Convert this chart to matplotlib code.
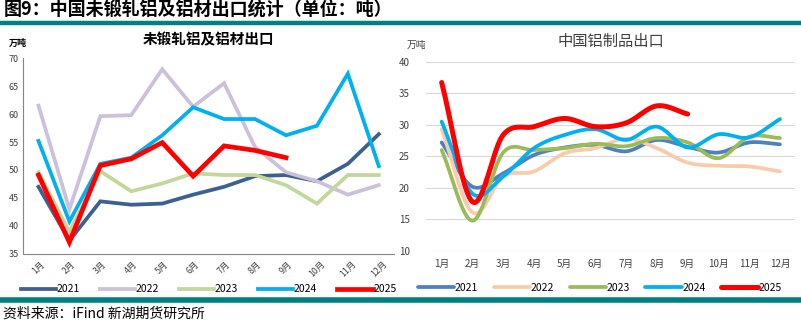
import numpy as np
import matplotlib
matplotlib.use("Agg")
import matplotlib.pyplot as plt
from matplotlib.lines import Line2D

plt.rcParams['font.family'] = ['Noto Sans CJK SC', 'DejaVu Sans']

months = ['1月', '2月', '3月', '4月', '5月', '6月', '7月', '8月', '9月', '10月', '11月', '12月']
years = ['2021', '2022', '2023', '2024', '2025']

# 未锻轧铝及铝材出口 (万吨)
raw_2021 = [47.0, 37.4, 44.4, 43.8, 44.0, 45.6, 47.0, 48.9, 49.1, 48.0, 51.1, 56.4]
raw_2022 = [61.5, 43.0, 59.6, 59.8, 68.0, 61.3, 65.5, 54.1, 49.6, 48.0, 45.6, 47.3]
raw_2023 = [49.6, 38.9, 49.8, 46.2, 47.6, 49.4, 49.1, 49.1, 47.3, 44.0, 49.1, 49.1]
raw_2024 = [55.2, 40.8, 51.1, 52.2, 56.2, 61.2, 59.1, 59.1, 56.2, 57.9, 67.2, 50.7]
raw_2025 = [49.1, 37.1, 50.8, 52.0, 54.9, 48.9, 54.3, 53.5, 52.2]

# 中国铝制品出口 (万吨)
prod_2021 = [27.2, 20.2, 22.3, 25.2, 26.4, 26.8, 25.8, 27.6, 26.5, 25.6, 27.2, 26.9]
prod_2022 = [29.3, 16.1, 21.8, 22.6, 25.5, 26.3, 27.8, 26.3, 24.0, 23.5, 23.4, 22.6]
prod_2023 = [26.0, 14.8, 25.6, 26.0, 26.3, 27.0, 26.6, 27.9, 27.2, 24.7, 28.1, 27.9]
prod_2024 = [30.5, 19.1, 21.8, 26.3, 28.4, 29.3, 27.6, 29.7, 26.4, 28.5, 28.0, 30.9]
prod_2025 = [36.7, 17.8, 28.4, 29.7, 31.0, 29.7, 30.3, 33.0, 31.7]

raw_series = [raw_2021, raw_2022, raw_2023, raw_2024, raw_2025]
prod_series = [prod_2021, prod_2022, prod_2023, prod_2024, prod_2025]

left_colors = ['#3C6090', '#CCC1DA', '#C3D69B', '#00B0F0', '#FF0000']
right_colors = ['#4F81BD', '#F8CBAD', '#9BBB59', '#00B0F0', '#FF0000']
teal = '#008080'


def smooth(x, y, n=20):
    # Catmull-Rom curve through the points, like a spreadsheet "smoothed line"
    x = np.asarray(x, float)
    y = np.asarray(y, float)
    px = np.concatenate([[2 * x[0] - x[1]], x, [2 * x[-1] - x[-2]]])
    py = np.concatenate([[2 * y[0] - y[1]], y, [2 * y[-1] - y[-2]]])
    xs, ys = [], []
    t = np.linspace(0, 1, n, endpoint=False)
    for i in range(1, len(px) - 2):
        for p, out in ((px, xs), (py, ys)):
            p0, p1, p2, p3 = p[i - 1], p[i], p[i + 1], p[i + 2]
            out.extend(0.5 * (2 * p1 + (-p0 + p2) * t
                              + (2 * p0 - 5 * p1 + 4 * p2 - p3) * t ** 2
                              + (-p0 + 3 * p1 - 3 * p2 + p3) * t ** 3))
    xs.append(x[-1])
    ys.append(y[-1])
    return np.array(xs), np.array(ys)


fig = plt.figure(figsize=(8.01, 3.25), dpi=100)

# header and footer
fig.text(0.004, 0.968, '图9：中国未锻轧铝及铝材出口统计（单位：吨）', fontsize=13,
         fontweight='bold', va='center', ha='left', color='black')
fig.add_artist(Line2D([0, 1], [0.929, 0.929], color=teal, lw=3.2))
fig.add_artist(Line2D([0, 1], [0.077, 0.077], color=teal, lw=4))
fig.text(0.004, 0.036, '资料来源：iFind 新湖期货研究所', fontsize=10, va='center', ha='left')

# left: 未锻轧铝及铝材
ax1 = fig.add_axes([0.0287, 0.2185, 0.4635, 0.603])
x = np.arange(1, 13)
for yr, vals, c in zip(years, raw_series, left_colors):
    lw = 3.4 if yr == '2025' else 2.7
    ax1.plot(x[:len(vals)], vals, color=c, lw=lw, label=yr, solid_joinstyle='miter')
ax1.set_xlim(0.5, 12.5)
ax1.set_ylim(35, 70)
ax1.set_yticks(range(35, 71, 5))
ax1.set_xticks(x)
ax1.set_xticklabels(months, rotation=45, fontsize=6.3, color='#404040')
ax1.tick_params(axis='y', labelsize=6.5, labelcolor='#404040', length=0, pad=3)
ax1.tick_params(axis='x', length=0, pad=4)
for s in ['top', 'right']:
    ax1.spines[s].set_visible(False)
for s in ['left', 'bottom']:
    ax1.spines[s].set_color('#868686')
    ax1.spines[s].set_linewidth(0.8)
ax1.set_title('未锻轧铝及铝材出口', fontsize=10.5, fontweight='bold', pad=10)
fig.text(0.011, 0.867, '万吨', fontsize=6.5, fontweight='bold', va='center')
ax1.legend(loc='center', bbox_to_anchor=(0.5, -0.18), ncol=5, frameon=False,
           fontsize=7.5, handlelength=3.4, handletextpad=0.05, columnspacing=1.9)

# right: 中国铝制品出口
ax2 = fig.add_axes([0.5322, 0.2277, 0.4607, 0.5825])
for yr, vals, c in zip(years, prod_series, right_colors):
    lw = 3.6 if yr == '2025' else 2.7
    sx, sy = smooth(x[:len(vals)], vals)
    ax2.plot(sx, sy, color=c, lw=lw, label=yr, solid_capstyle='round')
ax2.set_xlim(0.5, 12.5)
ax2.set_ylim(10, 40)
ax2.set_yticks(range(10, 41, 5))
ax2.set_xticks(x)
ax2.set_xticklabels(months, fontsize=7, color='#404040')
ax2.tick_params(axis='y', labelsize=7, labelcolor='#404040', length=0, pad=12)
ax2.tick_params(axis='x', length=0, pad=6)
ax2.grid(axis='y', color='#D9D9D9', lw=0.8)
ax2.set_axisbelow(True)
for s in ax2.spines.values():
    s.set_visible(False)
ax2.set_title('中国铝制品出口', fontsize=11, color='#404040', pad=11)
fig.text(0.508, 0.862, '万吨', fontsize=7, va='center', color='#404040')
ax2.legend(loc='center', bbox_to_anchor=(0.47, -0.195), ncol=5, frameon=False,
           fontsize=7.5, handlelength=3.5, handletextpad=0.05, columnspacing=1.5)

fig.savefig('out.png', dpi=100)
